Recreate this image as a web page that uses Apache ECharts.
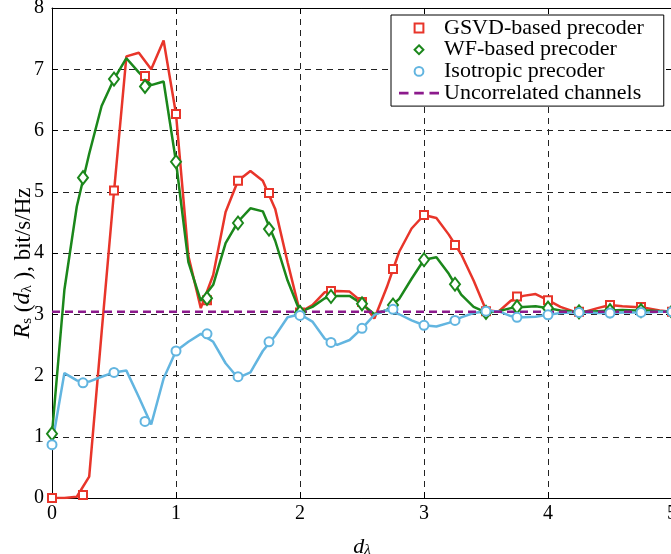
<!DOCTYPE html>
<html>
<head>
<meta charset="utf-8">
<script src="https://cdn.jsdelivr.net/npm/echarts@6/dist/echarts.min.js"></script>
<style>
	html, body { margin: 0; padding: 0; background: #fff; }
	#chart { width: 671px; height: 554px; }
</style>
</head>
<body>
<div id="chart"></div>
<script>
// fine grid for the curves, coarse grid for the markers
const xFine = [0, 0.1, 0.2, 0.3, 0.4, 0.5, 0.6, 0.7, 0.8, 0.9, 1.0, 1.1, 1.2, 1.3, 1.4, 1.5, 1.6, 1.7, 1.8, 1.9,
	2.0, 2.1, 2.2, 2.3, 2.4, 2.5, 2.6, 2.7, 2.8, 2.9, 3.0, 3.1, 3.2, 3.3, 3.4, 3.5, 3.6, 3.7, 3.8, 3.9,
	4.0, 4.1, 4.2, 4.3, 4.4, 4.5, 4.6, 4.7, 4.8, 4.9, 5.0];
const xMarks = [0, 0.25, 0.5, 0.75, 1, 1.25, 1.5, 1.75, 2, 2.25, 2.5, 2.75, 3, 3.25, 3.5, 3.75, 4, 4.25, 4.5, 4.75, 5];

const gsvdLine = [0, 0, 0.02, 0.35, 2.7, 5.0, 7.21, 7.27, 7.0, 7.47, 6.27, 3.95, 3.1, 3.64, 4.67, 5.18, 5.34, 5.18, 4.72, 3.85,
	3.03, 3.15, 3.36, 3.38, 3.37, 3.2, 2.93, 3.44, 4.02, 4.4, 4.62, 4.57, 4.3, 3.98, 3.55, 3.07, 3.04, 3.22, 3.3, 3.33,
	3.23, 3.12, 3.05, 3.04, 3.1, 3.15, 3.13, 3.12, 3.1, 3.06, 3.04];
const wfLine = [1.05, 3.4, 4.76, 5.62, 6.4, 6.84, 7.18, 6.95, 6.74, 6.8, 5.49, 3.85, 3.22, 3.48, 4.16, 4.51, 4.73, 4.68, 4.2, 3.55,
	3.04, 3.12, 3.26, 3.3, 3.3, 3.17, 3.0, 3.07, 3.25, 3.58, 3.89, 3.93, 3.66, 3.32, 3.12, 3.03, 3.05, 3.1, 3.12, 3.13,
	3.1, 3.06, 3.04, 3.04, 3.05, 3.06, 3.07, 3.06, 3.06, 3.05, 3.04];
const isoLine = [0.87, 2.04, 1.92, 1.9, 1.98, 2.05, 2.08, 1.65, 1.2, 1.95, 2.4, 2.55, 2.68, 2.55, 2.2, 1.96, 2.05, 2.4, 2.65, 2.95,
	3.0, 2.88, 2.6, 2.5, 2.58, 2.77, 2.99, 3.07, 3.0, 2.9, 2.82, 2.8, 2.86, 2.95, 3.02, 3.05, 3.05, 2.97, 2.95, 2.96,
	2.99, 3.02, 3.03, 3.03, 3.02, 3.02, 3.03, 3.03, 3.03, 3.04, 3.04];

const gsvdMarks = [0, 0.05, 5.02, 6.89, 6.27, 3.23, 5.18, 4.98, 3.03, 3.38, 3.2, 3.74, 4.62, 4.13, 3.05, 3.29, 3.23, 3.04, 3.15, 3.12, 3.04];
const wfMarks = [1.05, 5.23, 6.84, 6.72, 5.49, 3.26, 4.49, 4.39, 3.03, 3.29, 3.17, 3.15, 3.89, 3.49, 3.03, 3.12, 3.1, 3.04, 3.06, 3.06, 3.04];
const isoMarks = [0.87, 1.88, 2.05, 1.25, 2.4, 2.68, 1.98, 2.55, 2.98, 2.54, 2.77, 3.08, 2.82, 2.9, 3.05, 2.95, 2.99, 3.03, 3.02, 3.03, 3.04];

const uncorrX = [0, 5];
const uncorrY = [3.04, 3.04];

const xTicks = [0, 1, 2, 3, 4, 5];
const yTicks = [0, 1, 2, 3, 4, 5, 6, 7, 8];

const names = ['GSVD-based precoder', 'WF-based precoder', 'Isotropic precoder', 'Uncorrelated channels'];
const RED = '#e8352a', GREEN = '#1b871b', BLUE = '#62b5e0', PURPLE = '#8c1a8c';
const FONT = 'Liberation Serif';

function pairs(xs, ys) {
	return xs.map((x, i) => [x, ys[i]]);
}

function lineSeries(xs, ys, color) {
	return {
		type: 'line',
		data: pairs(xs, ys),
		symbol: 'none',
		lineStyle: { color: color, width: 2.5 },
		itemStyle: { color: color },
		z: 2,
		silent: true
	};
}

// markers only: a line series with an invisible line, so the legend puts the symbol in the middle
function markSeries(name, ys, color, symbol, size) {
	return {
		name: name,
		type: 'line',
		data: pairs(xMarks, ys),
		symbol: symbol,
		symbolSize: size,
		showSymbol: true,
		showAllSymbol: true,
		lineStyle: { width: 0, opacity: 0 },
		itemStyle: { color: '#fff', borderColor: color, borderWidth: 2, opacity: 1 },
		z: 4
	};
}

const chart = echarts.init(document.getElementById('chart'));

const axisBase = {
	type: 'value',
	axisLine: { show: true, onZero: false, lineStyle: { color: '#000', width: 1 } },
	axisTick: { show: true, inside: true, length: 6, lineStyle: { color: '#000' } },
	axisLabel: { color: '#000', fontFamily: FONT, fontSize: 20 },
	splitLine: { show: false }
};

const option = {
	animation: false,
	backgroundColor: '#fff',
	grid: { left: 52, right: -1, top: 8, bottom: 56, containLabel: false, outerBoundsMode: 'none' },
	xAxis: [
		Object.assign({}, axisBase, {
			min: xTicks[0], max: xTicks[xTicks.length - 1], interval: 1, position: 'bottom',
			axisLabel: { color: '#000', fontFamily: FONT, fontSize: 20, margin: 6 },
			splitLine: { show: true, lineStyle: { color: '#222', type: [6, 5], width: 1 } },
			name: '{i|d}{sub|λ}',
			nameLocation: 'middle',
			nameGap: 36,
			nameTextStyle: {
				rich: {
					i: { fontFamily: FONT, fontStyle: 'italic', fontSize: 22, color: '#000', lineHeight: 24, verticalAlign: 'bottom' },
					sub: { fontFamily: FONT, fontStyle: 'italic', fontSize: 15, color: '#000', lineHeight: 20, verticalAlign: 'bottom' }
				}
			}
		}),
		Object.assign({}, axisBase, {
			min: xTicks[0], max: xTicks[xTicks.length - 1], interval: 1, position: 'top',
			axisLabel: { show: false }
		})
	],
	yAxis: [
		Object.assign({}, axisBase, {
			min: yTicks[0], max: yTicks[yTicks.length - 1], interval: 1, position: 'left',
			axisLabel: { color: '#000', fontFamily: FONT, fontSize: 20, margin: 8 },
			splitLine: { show: true, lineStyle: { color: '#222', type: [6, 5], width: 1 } },
			name: '{i|R}{sub|s}{n| (}{i|d}{sub|λ}{n| ), bit/s/Hz}',
			nameLocation: 'middle',
			nameGap: 17,
			nameMoveOverlap: false,
			nameTextStyle: {
				padding: [0, 20, 0, 0],
				rich: {
					i: { fontFamily: FONT, fontStyle: 'italic', fontSize: 24, color: '#000', lineHeight: 24, verticalAlign: 'bottom' },
					n: { fontFamily: FONT, fontSize: 23, color: '#000', lineHeight: 24, verticalAlign: 'bottom' },
					sub: { fontFamily: FONT, fontSize: 15, color: '#000', lineHeight: 20, verticalAlign: 'bottom' }
				}
			}
		}),
		Object.assign({}, axisBase, {
			min: yTicks[0], max: yTicks[yTicks.length - 1], interval: 1, position: 'right',
			axisLabel: { show: false }
		})
	],
	legend: {
		left: 391,
		top: 15,
		orient: 'vertical',
		backgroundColor: '#fff',
		borderColor: '#000',
		borderWidth: 1,
		padding: [2, 20, 2, 8],
		itemGap: -0.3,
		itemWidth: 40,
		itemHeight: 11,
		selectedMode: false,
		textStyle: { fontFamily: FONT, fontSize: 22, color: '#000', lineHeight: 20 },
		data: [
			{ name: names[0], itemStyle: { color: '#fff', borderColor: RED, borderWidth: 2 } },
			{ name: names[1], itemStyle: { color: '#fff', borderColor: GREEN, borderWidth: 2 } },
			{ name: names[2], itemStyle: { color: '#fff', borderColor: BLUE, borderWidth: 2 } },
			{ name: names[3], icon: 'path://M0,0h10v3h-10z M16,0h10v3h-10z M32,0h10v3h-10z', itemStyle: { color: PURPLE, borderWidth: 0 } }
		]
	},
	series: [
		lineSeries(xFine, gsvdLine, RED),
		lineSeries(xFine, wfLine, GREEN),
		lineSeries(xFine, isoLine, BLUE),
		{
			name: names[3],
			type: 'line',
			data: pairs(uncorrX, uncorrY),
			symbol: 'none',
			lineStyle: { color: PURPLE, width: 2.5, type: [8, 5] },
			itemStyle: { color: PURPLE },
			z: 3
		},
		markSeries(names[0], gsvdMarks, RED, 'rect', 8),
		markSeries(names[1], wfMarks, GREEN, 'diamond', [10, 13]),
		markSeries(names[2], isoMarks, BLUE, 'circle', 9)
	]
};

chart.setOption(option);
</script>
</body>
</html>
